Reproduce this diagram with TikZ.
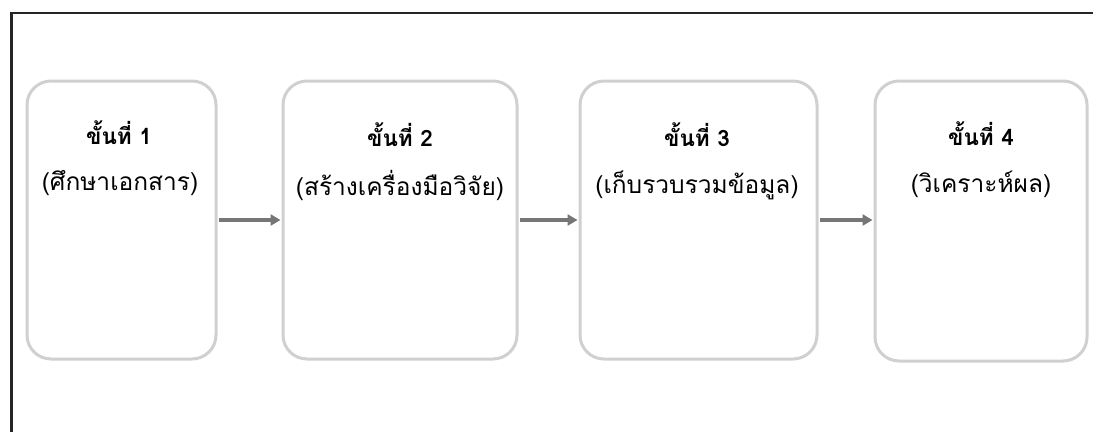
\documentclass[tikz,border=0pt]{standalone}
\usepackage{fontspec}
\newfontfamily\thaifont[Script=Thai]{Loma}
\usetikzlibrary{arrows.meta}
\definecolor{boxline}{RGB}{208,208,208}
\definecolor{arrowc}{RGB}{118,118,118}
\tikzset{
  stepbox/.style={draw=boxline, line width=3pt, rounded corners=24pt, fill=white, inner sep=0pt},
  titletext/.style={font=\thaifont\bfseries\fontsize{22.5}{26}\selectfont, inner sep=0pt},
  subtext/.style={font=\thaifont\fontsize{24.5}{28}\selectfont, inner sep=0pt},
  flow/.style={draw=arrowc, line width=3.5pt, -{Triangle[length=10pt,width=11pt]}, shorten <=1pt, shorten >=1pt}
}
\begin{document}
\begin{tikzpicture}[x=1pt,y=-1pt]
\useasboundingbox (0,0) rectangle (1093,432);
\fill[white] (0,0) rectangle (1093,432);
\draw[line width=2.6pt, black!85] (11.5,432) -- (11.5,13) -- (1093,13);
\node[stepbox, minimum width=189pt, minimum height=278pt] (b1) at (121.5,220) {};
\node[stepbox, minimum width=234pt, minimum height=278pt] (b2) at (400,220) {};
\node[stepbox, minimum width=237pt, minimum height=278pt] (b3) at (698.5,220) {};
\node[stepbox, minimum width=212pt, minimum height=280pt] (b4) at (981,221) {};
\node[titletext] (t1) at (119,133) {ขั้นที่ 1};
\node[subtext] (s1) at (120,183) {(ศึกษาเอกสาร)};
\node[titletext] (t2) at (400,135) {ขั้นที่ 2};
\node[subtext] (s2) at (400,185) {(สร้างเครื่องมือวิจัย)};
\node[titletext] (t3) at (697,135) {ขั้นที่ 3};
\node[subtext] (s3) at (697,185) {(เก็บรวบรวมข้อมูล)};
\node[titletext] (t4) at (981,134) {ขั้นที่ 4};
\node[subtext] (s4) at (981,184) {(วิเคราะห์ผล)};
\draw[flow] (b1.east) -- (b2.west);
\draw[flow] (b2.east) -- (b3.west);
\draw[flow] (b3.east) -- (b4.west |- b3.east);
\end{tikzpicture}
\end{document}
